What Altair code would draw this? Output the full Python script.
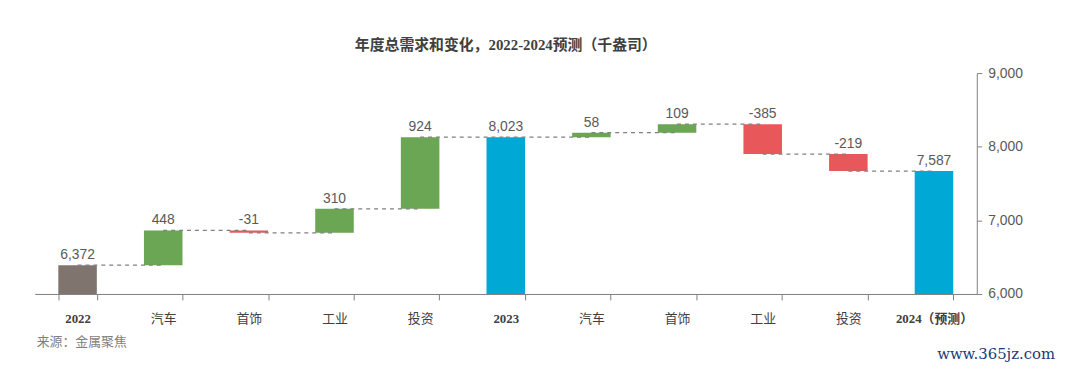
import altair as alt
import pandas as pd

categories = ['2022', '汽车', '首饰', '工业', '投资', '2023', '汽车', '首饰', '工业', '投资', '2024（预测）']
values = [6372, 448, -31, 310, 924, 8023, 58, 109, -385, -219, 7587]
is_total = [True, False, False, False, False, True, False, False, False, False, True]
y_ticks = [6000, 7000, 8000, 9000]
# the reference draws its bars against a scale that tops out near 8,850 while its
# right-hand axis is labelled up to 9,000 (a secondary-axis mismatch); both are reproduced
bar_domain = [6000, 8850]
axis_domain = [6000, 9000]

rows = []
level = 0
for i, (c, v, t) in enumerate(zip(categories, values, is_total)):
    if t:
        start, end = 0, v
        kind = 'base' if i == 0 else 'total'
        level = v
    else:
        start, end = level, level + v
        kind = 'up' if v >= 0 else 'down'
        level = end
    rows.append(dict(idx=i, cat=c, start=start, end=end, top=max(start, end),
                     label=f"{v:,}", kind=kind))
df = pd.DataFrame(rows)

conn = pd.DataFrame({
    'x': [i + 0.5 for i in range(len(categories) - 1)],
    'x2': [i + 1.5 for i in range(len(categories) - 1)],
    'y': [rows[i]['end'] for i in range(len(categories) - 1)],
})

W, H = 951, 223
label_arr = "[" + ",".join(f"'{c}'" for c in categories) + "][datum.value]"
year_test = " || ".join(f"datum.value == {i}" for i, t in enumerate(is_total) if t)

x_enc = alt.X('idx:O',
              scale=alt.Scale(paddingInner=0.55, paddingOuter=0.275),
              axis=alt.Axis(title=None, labelAngle=0, labelExpr=label_arr,
                            tickBand='extent', tickSize=6, tickColor='#808080',
                            domainColor='#808080', domainWidth=1,
                            labelPadding=13, labelFontSize=13, labelColor='#404040',
                            labelFontWeight={"condition": {"test": year_test, "value": "bold"}, "value": "normal"},
                            labelFont={"condition": {"test": year_test, "value": "Liberation Serif, Noto Sans CJK SC"}, "value": "Noto Sans CJK SC"}))

y_scale = alt.Scale(domain=bar_domain, nice=False, zero=False)

bars = alt.Chart(df).mark_bar(clip=True).encode(
    x=x_enc,
    y=alt.Y('end:Q', scale=y_scale, axis=None),
    y2='start:Q',
    color=alt.Color('kind:N', legend=None,
                    scale=alt.Scale(domain=['base', 'total', 'up', 'down'],
                                    range=['#7f756e', '#00a8d6', '#6aa653', '#e8585b'])),
)

texts = alt.Chart(df).mark_text(baseline='bottom', dy=-3, fontSize=14, font='Liberation Sans',
                                color='#595959').encode(
    x=alt.X('idx:O'),
    y=alt.Y('top:Q', scale=y_scale, axis=None),
    text='label:N',
)

connectors = alt.Chart(conn).mark_rule(strokeDash=[4, 4], color='#808080', strokeWidth=1.3).encode(
    x=alt.X('x:Q', scale=alt.Scale(domain=[0, len(categories)], nice=False, zero=False), axis=None),
    x2='x2:Q',
    y=alt.Y('y:Q', scale=y_scale, axis=None),
)

inner = alt.layer(alt.layer(bars, texts), connectors).resolve_scale(x='independent')

axis_layer = alt.Chart(pd.DataFrame({'v': y_ticks})).mark_rule(opacity=0).encode(
    y=alt.Y('v:Q', scale=alt.Scale(domain=axis_domain, nice=False, zero=False),
            axis=alt.Axis(orient='right', values=y_ticks, format=',d', title=None, grid=False,
                          domainColor='#808080', tickColor='#808080', tickSize=5,
                          labelPadding=6, labelFont='Liberation Sans', labelFontSize=14,
                          labelColor='#595959')),
)

note = alt.Chart(pd.DataFrame({'t': ['来源：金属聚焦']})).mark_text(
    align='left', baseline='middle', fontSize=13, font='Noto Sans CJK SC', color='#7f7f7f'
).encode(x=alt.value(2), y=alt.value(H + 49), text='t:N')

mark = alt.Chart(pd.DataFrame({'t': ['www.365jz.com']})).mark_text(
    align='left', baseline='alphabetic', fontSize=15, font='DejaVu Serif', color='#1b3a7c'
).encode(x=alt.value(911), y=alt.value(H + 66), text='t:N')

chart = alt.layer(inner, axis_layer, note, mark).resolve_scale(y='independent').properties(
    width=W, height=H,
    padding={"left": 27, "top": 29, "right": 5, "bottom": 0},
    title=alt.Title('年度总需求和变化，2022-2024预测（千盎司）', fontSize=15,
                    font='Liberation Serif, Noto Sans CJK SC', fontWeight='bold',
                    color='#404040', offset=13, anchor='middle'),
).configure_view(stroke=None)

chart.save("out.html", embed_options={"renderer": "svg", "actions": False})
